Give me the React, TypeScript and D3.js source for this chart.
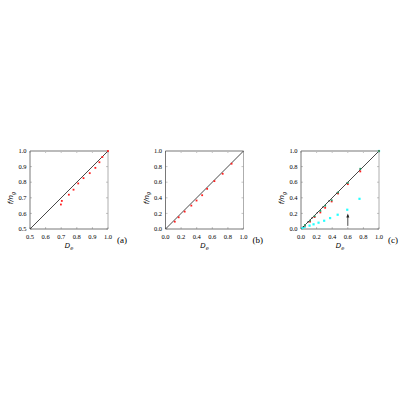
import * as d3 from "d3";

type Pt = [number, number];

// panel (a)
const aTicks = [0.5, 0.6, 0.7, 0.8, 0.9, 1.0];
const aRed: Pt[] = [
  [0.698, 0.657], [0.704, 0.68], [0.749, 0.72], [0.779, 0.752], [0.809, 0.792],
  [0.843, 0.826], [0.883, 0.858], [0.919, 0.892], [0.945, 0.928], [0.964, 0.962], [1.0, 1.0],
];

// panel (b)
const bTicks = [0, 0.2, 0.4, 0.6, 0.8, 1.0];
const bRed: Pt[] = [
  [0.119, 0.094], [0.169, 0.15], [0.246, 0.223], [0.331, 0.3], [0.398, 0.365],
  [0.47, 0.433], [0.534, 0.515], [0.627, 0.614], [0.733, 0.708], [0.847, 0.837],
];

// panel (c)
const cTicks = [0, 0.2, 0.4, 0.6, 0.8, 1.0];
const cCyan: Pt[] = [
  [0.02, 0.013], [0.047, 0.026], [0.11, 0.043], [0.161, 0.06], [0.225, 0.081],
  [0.297, 0.106], [0.373, 0.14], [0.47, 0.183], [0.593, 0.247], [0.75, 0.387], [1.0, 1.0],
];
const cRed: Pt[] = [
  [0.05, 0.043], [0.116, 0.094], [0.174, 0.153], [0.248, 0.212], [0.31, 0.272],
  [0.393, 0.353], [0.475, 0.455], [0.6, 0.575], [0.76, 0.738], [1.0, 1.0],
];
const cGreen: Pt[] = [
  [0.05, 0.05], [0.116, 0.108], [0.174, 0.163], [0.248, 0.232], [0.31, 0.298],
  [0.393, 0.368], [0.475, 0.468], [0.6, 0.592], [0.76, 0.772], [1.0, 1.0],
];
const cBlack: Pt[] = [
  [0.03, 0.03], [0.09, 0.09], [0.14, 0.14], [0.21, 0.21], [0.28, 0.28],
  [0.36, 0.36], [0.46, 0.46], [0.59, 0.59], [0.76, 0.76],
];
const cArrow: Pt[] = [[0.6, 0.04], [0.6, 0.2]];

const SIZE = 78;
const TOP = 151;
const font = "'Liberation Serif', 'DejaVu Serif', serif";
const mathFont = "'DejaVu Sans', sans-serif";

type Series = { pts: Pt[]; color: string; r: number };

function Panel({ left, ticks, series, label, arrow }: {
  left: number; ticks: number[]; series: Series[]; label: string; arrow?: Pt[];
}) {
  const x = d3.scaleLinear().domain([ticks[0], 1]).range([left, left + SIZE]);
  const y = d3.scaleLinear().domain([ticks[0], 1]).range([TOP + SIZE, TOP]);
  const fmt = d3.format(".1f");
  const line = d3.line<number>().x(v => x(v)).y(v => y(v));
  return (
    <g>
      {ticks.map(t => (
        <g key={t}>
          <line x1={x(t)} x2={x(t)} y1={TOP + SIZE} y2={TOP + SIZE - 2} stroke="#888" strokeWidth={0.5} />
          <line x1={x(t)} x2={x(t)} y1={TOP} y2={TOP + 2} stroke="#888" strokeWidth={0.5} />
          <line x1={left} x2={left + 2} y1={y(t)} y2={y(t)} stroke="#888" strokeWidth={0.5} />
          <line x1={left + SIZE} x2={left + SIZE - 2} y1={y(t)} y2={y(t)} stroke="#888" strokeWidth={0.5} />
          <text x={x(t)} y={TOP + SIZE + 9.5} fontSize={6.5} textAnchor="middle" fontFamily={font}>{fmt(t)}</text>
          <text x={left - 3.5} y={y(t) + 2.2} fontSize={6.5} textAnchor="end" fontFamily={font}>{fmt(t)}</text>
        </g>
      ))}
      <line x1={left} x2={left + SIZE} y1={TOP} y2={TOP} stroke="#bbb" strokeWidth={2} />
      <line x1={left + SIZE} x2={left + SIZE} y1={TOP} y2={TOP + SIZE} stroke="#999" strokeWidth={0.8} />
      <line x1={left} x2={left} y1={TOP} y2={TOP + SIZE} stroke="#555" strokeWidth={0.8} />
      <line x1={left} x2={left + SIZE} y1={TOP + SIZE} y2={TOP + SIZE} stroke="#555" strokeWidth={0.8} />
      <path d={line([ticks[0], 1]) ?? ""} stroke="#333" strokeWidth={0.9} fill="none" />
      {series.map((s, i) => (
        <g key={i}>
          {s.pts.map((p, j) => (
            <rect key={j} x={x(p[0]) - s.r} y={y(p[1]) - s.r} width={2 * s.r} height={2 * s.r} fill={s.color} />
          ))}
        </g>
      ))}
      {arrow && (
        <g>
          <line x1={x(arrow[0][0])} x2={x(arrow[1][0])} y1={y(arrow[0][1])} y2={y(arrow[1][1]) + 2} stroke="#222" strokeWidth={0.8} />
          <path
            d={`M${x(arrow[1][0])},${y(arrow[1][1])} l-1.5,4 l3,0 z`}
            fill="#222"
          />
        </g>
      )}
      <text x={left + SIZE / 2} y={TOP + SIZE + 19} fontSize={7} textAnchor="middle" fontFamily={mathFont} fontStyle="italic">
        D<tspan fontSize={5} dy={1.5}>e</tspan>
      </text>
      <text
        transform={`translate(${left - 17},${TOP + SIZE / 2 + 8}) rotate(-90)`}
        fontSize={7}
        textAnchor="middle"
        fontFamily={mathFont}
        fontStyle="italic"
      >
        f/n<tspan fontSize={5} dy={1.5}>g</tspan>
      </text>
      <text x={left + SIZE + 9} y={TOP + SIZE + 13.5} fontSize={9} fontFamily={font}>{label}</text>
    </g>
  );
}

export default function App() {
  return (
    <svg width={400} height={400} style={{ position: "absolute", left: 0, top: 0, background: "#fff" }}>
      <Panel left={30} ticks={aTicks} label="(a)" series={[{ pts: aRed, color: "#ff2020", r: 0.9 }]} />
      <Panel left={165.5} ticks={bTicks} label="(b)" series={[{ pts: bRed, color: "#ff2020", r: 0.9 }]} />
      <Panel
        left={301}
        ticks={cTicks}
        label="(c)"
        arrow={cArrow}
        series={[
          { pts: cCyan, color: "#22ffff", r: 1.1 },
          { pts: cBlack, color: "#222", r: 0.6 },
          { pts: cRed, color: "#ff2020", r: 0.9 },
          { pts: cGreen, color: "#2a9a6a", r: 0.9 },
        ]}
      />
    </svg>
  );
}
